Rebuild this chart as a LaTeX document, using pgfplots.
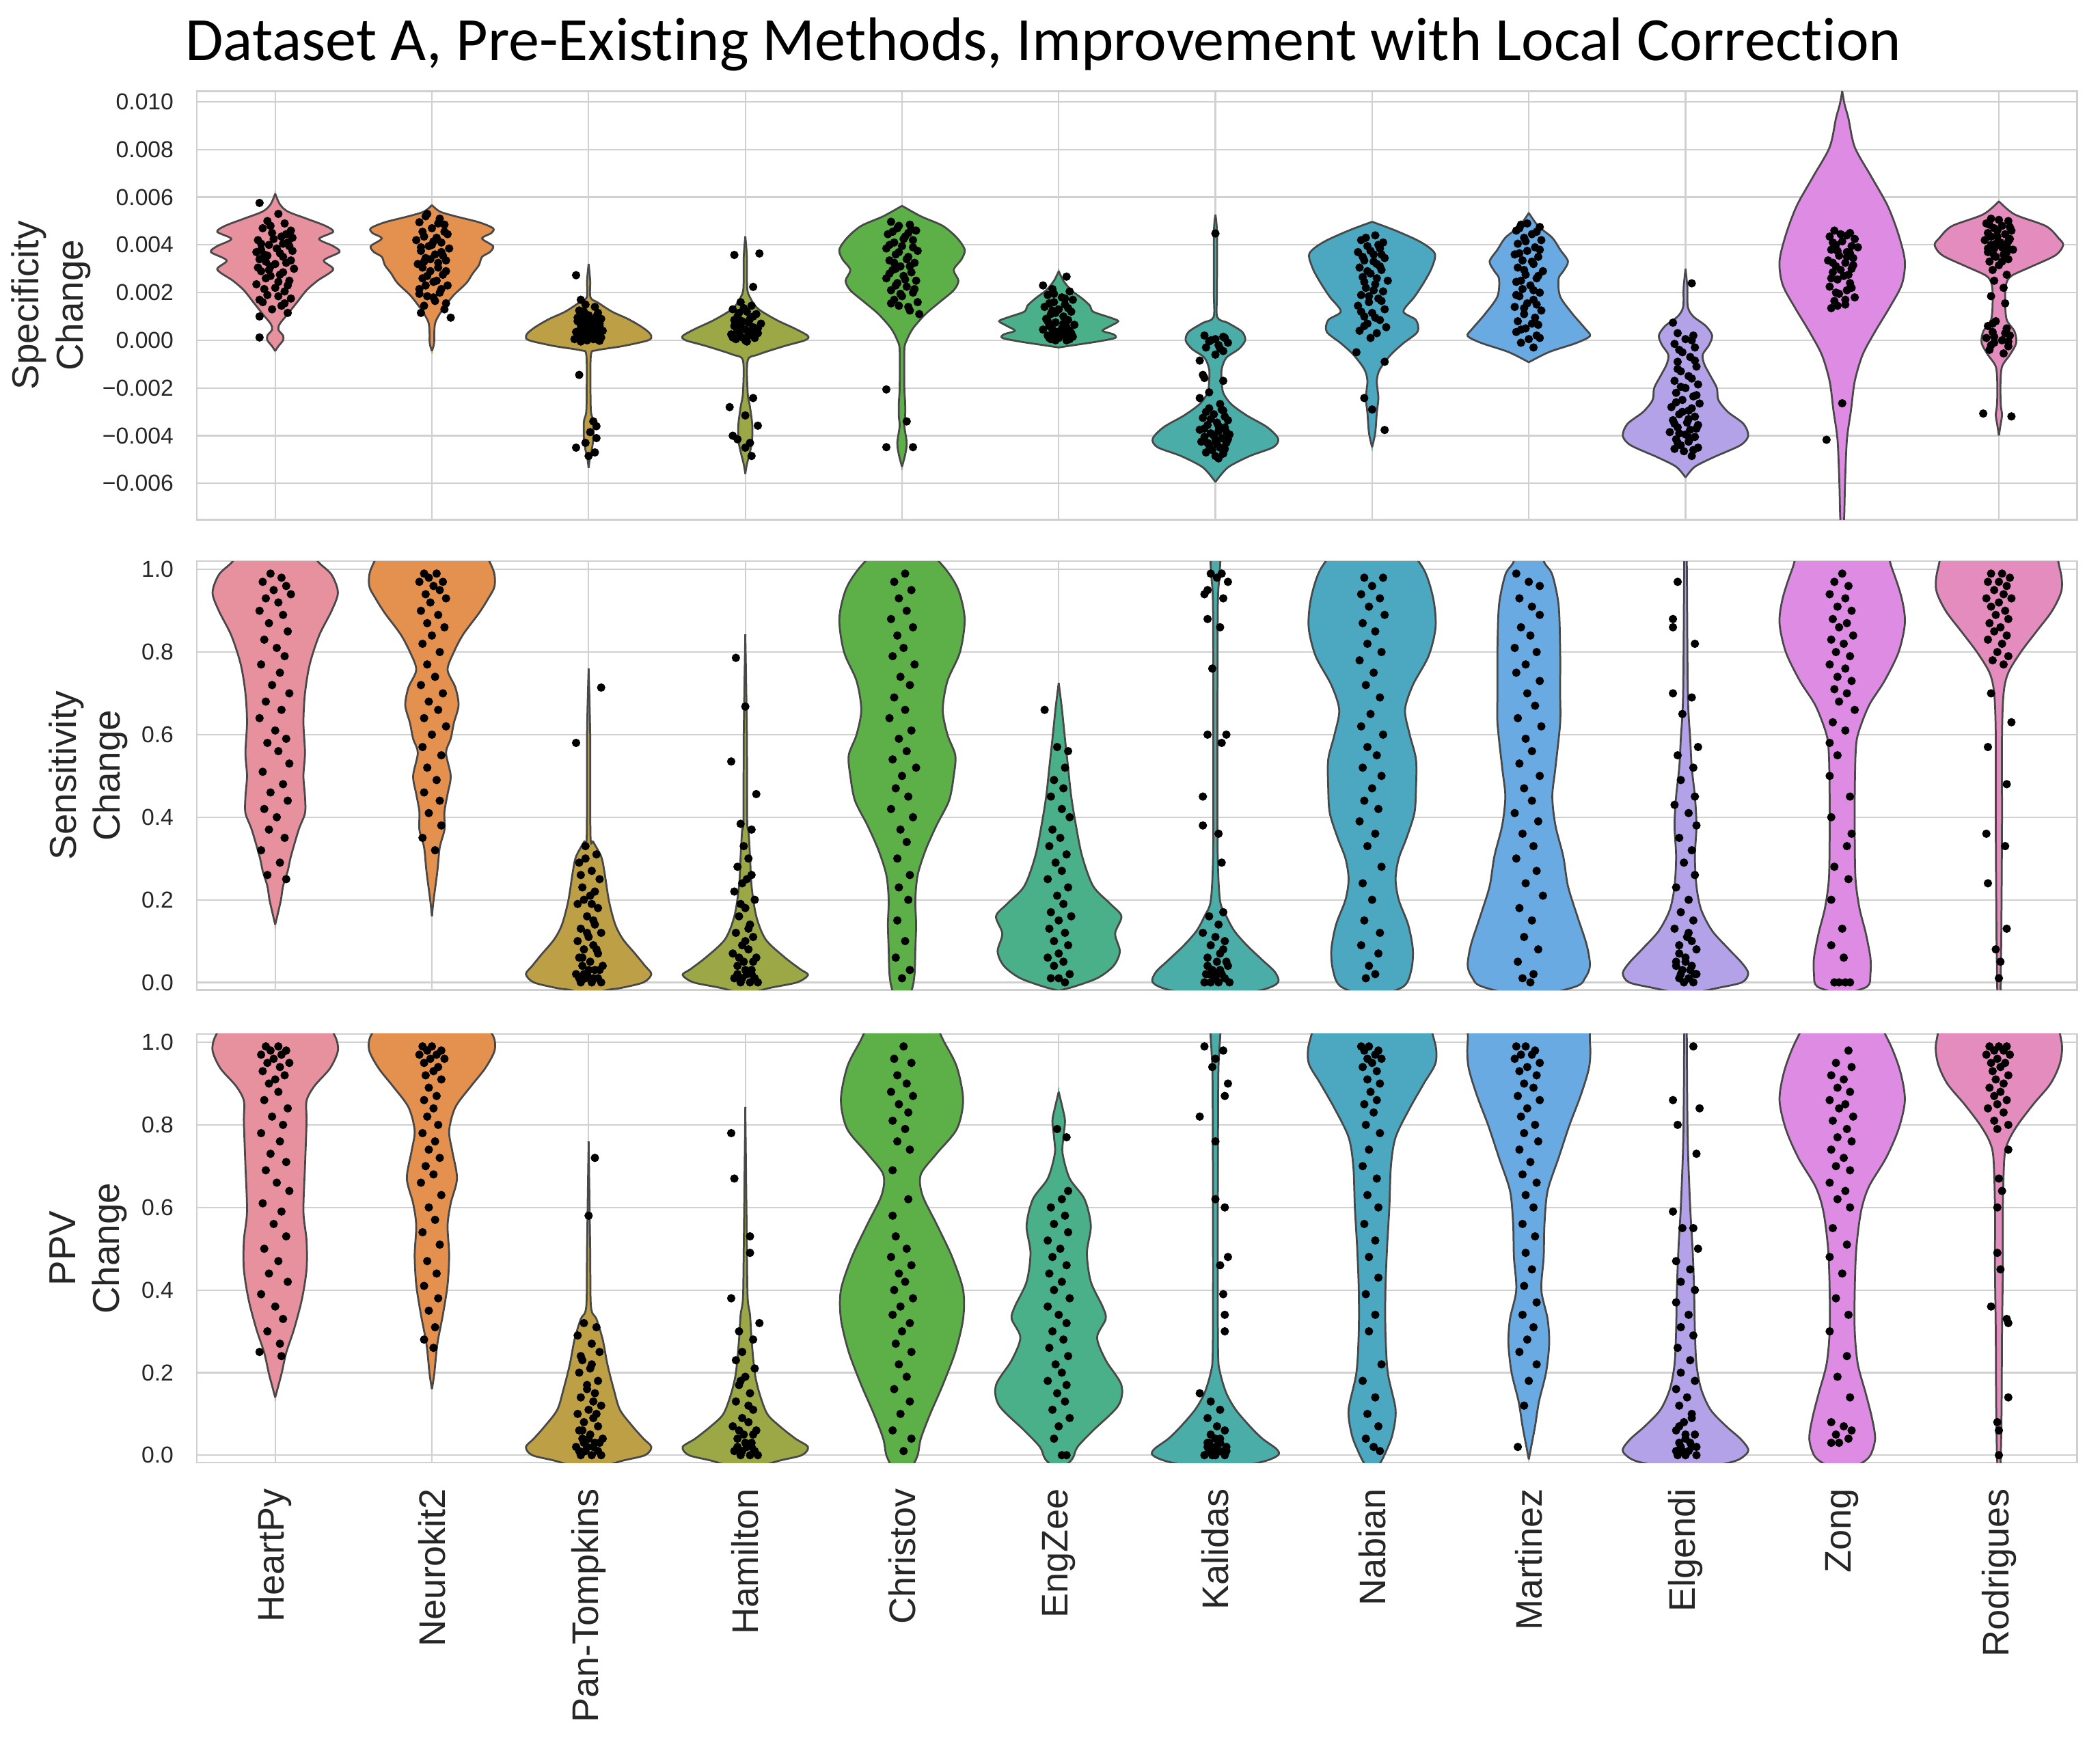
\documentclass[border=0pt]{standalone}
\usepackage{fontspec}
\setmainfont{Liberation Sans}
\newfontfamily\titlefont[Ligatures={NoCommon,NoContextual}]{Carlito}
\usepackage{pgfplots}
\pgfplotsset{compat=1.18}

\definecolor{gridc}{HTML}{D0D0D0}
\definecolor{labc}{HTML}{262626}
\definecolor{edgec}{HTML}{484848}
\definecolor{c1}{HTML}{E8919E}
\definecolor{c2}{HTML}{E4914F}
\definecolor{c3}{HTML}{BDA046}
\definecolor{c4}{HTML}{9CA846}
\definecolor{c5}{HTML}{5DAF47}
\definecolor{c6}{HTML}{49B08A}
\definecolor{c7}{HTML}{4AADA7}
\definecolor{c8}{HTML}{4BA8C0}
\definecolor{c9}{HTML}{6AAAE2}
\definecolor{c10}{HTML}{B3A2E8}
\definecolor{c11}{HTML}{DE8BE3}
\definecolor{c12}{HTML}{E58CBE}

\pgfplotsset{
  vbase/.style={
    width=702pt, height=160pt, scale only axis,
    xmin=-0.5, xmax=11.5, xtick={0,...,11}, xticklabels={},
    grid=major, major grid style={line width=0.55pt, color=gridc},
    axis line style={line width=0.65pt, color=gridc},
    major tick length=0pt, tick style={draw=none},
    yticklabel style={font=\fontsize{8.6}{10}\selectfont, text=labc, inner sep=0pt},
    yticklabel shift=8.5pt,
    every axis y label/.style={at={(axis description cs:-0.0577,0.5)}, rotate=90,
      anchor=center, align=center, font=\fontsize{14}{16.5}\selectfont, text=labc},
  },
  pts/.style={only marks, mark=*, mark size=1.35pt, color=black},
  vline/.style={draw=edgec, line width=0.7pt, smooth},
}

% half-width table (y, w) mirrored round the category position
\newcommand\violin[3]{%
  \addplot[fill=#2, draw=#2, line width=0.4pt, smooth] table[row sep=\\, x expr=#1-\thisrow{w}, y=y] {#3} -- cycle;
  \addplot[fill=#2, draw=#2, line width=0.4pt, smooth] table[row sep=\\, x expr=#1+\thisrow{w}, y=y] {#3} -- cycle;
  \addplot[vline] table[row sep=\\, x expr=#1-\thisrow{w}, y=y] {#3};
  \addplot[vline] table[row sep=\\, x expr=#1+\thisrow{w}, y=y] {#3};
}

\begin{document}
\begin{tikzpicture}
\path[use as bounding box] (-73.5pt,34pt) rectangle (710.5pt,-615.5pt);

% ---------- Specificity (values in units of 0.001) ----------
\begin{axis}[vbase, at={(0,0)}, anchor=north west,
  ymin=-7.52, ymax=10.45, ytick={-6,-4,...,10},
  yticklabels={−0.006,−0.004,−0.002,0.000,0.002,0.004,0.006,0.008,0.010},
  every axis y label/.append style={at={(axis description cs:-0.0776,0.5)}},
  ylabel={Specificity\\Change}]
\violin{0}{c1}{y w\\ 6.15 0\\ 5.7 0.03\\ 5.4 0.08\\ 5.1 0.2\\ 4.8 0.32\\ 4.55 0.37\\ 4.25 0.28\\ 3.95 0.37\\ 3.7 0.41\\ 3.35 0.31\\ 2.97 0.37\\ 2.5 0.27\\ 2.1 0.2\\ 1.6 0.14\\ 1.1 0.08\\ 0.7 0.03\\ 0.45 0.02\\ 0.2 0.05\\ 0.0 0.05\\ -0.25 0.02\\ -0.45 0\\}
\addplot[pts] coordinates {(-0.1,5.76) (0.02,5.3) (-0.05,5.0) (0.06,4.9) (-0.08,4.7) (0.1,4.6) (-0.02,4.5) (0.04,4.35) (-0.11,4.2) (0.08,4.1) (-0.04,4.0) (0.01,3.85) (0.11,3.75) (-0.07,3.6) (0.05,3.5) (-0.1,3.4) (0.07,3.25) (-0.03,3.1) (0.12,3.0) (-0.09,2.9) (0.03,2.75) (-0.06,2.6) (0.09,2.5) (-0.12,2.35) (0.0,2.2) (0.06,2.05) (-0.05,1.9) (0.1,1.75) (-0.08,1.6) (0.04,1.45) (-0.02,1.3) (0.08,1.15) (-0.1,1.0) (-0.1,0.12) (0.05,4.05) (-0.06,3.3) (0.02,2.45) (-0.03,4.8) (0.09,3.95) (-0.09,3.8)
 (-0.01,4.25) (0.07,4.45) (-0.09,4.05) (0.03,3.65) (-0.05,3.55) (0.1,3.35) (0.0,3.2) (-0.11,3.05) (0.05,2.85) (-0.03,2.7) (0.08,2.3) (-0.07,2.15) (0.02,1.85) (-0.1,1.7) (0.06,1.55) (-0.04,2.95) (0.11,4.3) (-0.12,3.7)};
\violin{1}{c2}{y w\\ 5.67 0\\ 5.4 0.05\\ 5.2 0.15\\ 4.95 0.3\\ 4.7 0.39\\ 4.5 0.38\\ 4.27 0.32\\ 3.95 0.39\\ 3.7 0.37\\ 3.5 0.32\\ 3.15 0.3\\ 2.8 0.26\\ 2.4 0.22\\ 1.9 0.14\\ 1.4 0.08\\ 1.0 0.04\\ 0.7 0.02\\ 0.3 0.015\\ 0.0 0.015\\ -0.2 0.012\\ -0.45 0\\}
\addplot[pts] coordinates {(0.97,5.3) (1.05,5.1) (0.92,4.95) (1.08,4.85) (1.0,4.7) (0.94,4.55) (1.1,4.45) (1.03,4.3) (0.9,4.2) (1.06,4.1) (0.98,3.95) (1.11,3.85) (0.93,3.75) (1.02,3.6) (0.96,3.45) (1.09,3.35) (0.91,3.2) (1.04,3.05) (0.99,2.9) (1.07,2.75) (0.94,2.6) (1.01,2.45) (1.1,2.3) (0.92,2.15) (1.05,2.0) (0.97,1.85) (1.02,1.65) (0.95,1.45) (1.08,1.3) (0.93,1.15) (1.12,0.95) (1.0,4.0) (0.95,3.3) (1.06,3.7)
 (0.96,5.2) (1.04,4.9) (1.08,4.55) (0.95,4.35) (1.01,4.15) (0.93,3.9) (1.07,3.55) (0.99,3.4) (1.04,3.25) (0.94,3.05) (1.09,2.9) (0.97,2.7) (1.03,2.5) (0.96,2.3) (1.06,2.15) (0.92,1.95) (1.01,1.8) (1.09,1.55)};
\violin{2}{c3}{y w\\ 3.2 0\\ 2.5 0.01\\ 1.8 0.012\\ 1.58 0.06\\ 1.2 0.15\\ 0.9 0.25\\ 0.6 0.33\\ 0.36 0.38\\ 0.18 0.40\\ 0.0 0.38\\ -0.24 0.22\\ -0.42 0.05\\ -0.6 0.015\\ -2.0 0.012\\ -3.0 0.015\\ -3.4 0.03\\ -4.1 0.03\\ -4.6 0.02\\ -4.85 0.01\\ -5.35 0\\}
\addplot[pts] coordinates {(1.92,2.73) (1.95,1.7) (1.98,1.5) (2.04,1.4) (1.94,1.25) (2.06,1.15) (2.0,1.05) (1.96,0.95) (2.08,0.9) (1.93,0.8) (2.03,0.75) (1.99,0.65) (2.07,0.6) (1.95,0.5) (2.02,0.45) (2.09,0.4) (1.92,0.35) (1.98,0.3) (2.05,0.25) (1.94,0.2) (2.01,0.15) (2.08,0.12) (1.96,0.1) (2.03,0.05) (1.91,0.05) (1.99,0.0) (2.06,0.02) (1.95,-0.05) (2.04,0.6) (1.97,0.85) (1.94,-1.45) (2.03,-3.4) (2.05,-3.6) (2.01,-3.85) (2.05,-4.1) (1.98,-4.3) (1.92,-4.5) (2.04,-4.7) (2.0,-4.85)
 (1.97,1.2) (2.05,1.0) (1.93,0.95) (2.01,0.85) (2.07,0.7) (1.95,0.65) (2.03,0.55) (1.98,0.4) (2.06,0.3) (1.94,0.25) (2.02,0.1) (2.07,-0.02) (1.97,0.2) (2.0,0.5)};
\violin{3}{c4}{y w\\ 4.36 0\\ 3.5 0.01\\ 2.2 0.012\\ 1.8 0.03\\ 1.33 0.08\\ 0.85 0.2\\ 0.48 0.32\\ 0.18 0.40\\ 0.0 0.38\\ -0.24 0.25\\ -0.6 0.08\\ -0.85 0.015\\ -2.2 0.015\\ -2.8 0.03\\ -3.6 0.045\\ -4.36 0.04\\ -5.2 0.01\\ -5.6 0\\}
\addplot[pts] coordinates {(2.93,3.58) (3.09,3.64) (3.05,2.24) (2.97,1.6) (3.04,1.45) (2.92,1.3) (3.01,1.2) (3.07,1.1) (2.95,1.0) (3.03,0.9) (2.98,0.8) (3.1,0.7) (2.93,0.6) (3.05,0.55) (3.0,0.45) (2.96,0.35) (3.08,0.3) (2.91,0.25) (3.02,0.2) (2.97,0.15) (3.06,0.1) (2.94,0.05) (3.0,0.0) (3.04,0.4) (2.99,1.35) (3.05,-2.42) (2.9,-2.8) (3.0,-3.15) (3.08,-3.58) (2.92,-4.0) (2.95,-4.15) (3.03,-4.3) (3.0,-4.5) (3.04,-4.85)
 (2.96,1.15) (3.05,1.0) (2.93,0.85) (3.02,0.75) (2.97,0.65) (3.08,0.5) (2.95,0.4) (3.03,0.3) (2.99,0.1) (3.06,0.2) (2.92,0.12) (3.01,-0.05)};
\violin{4}{c5}{y w\\ 5.64 0\\ 5.2 0.12\\ 4.8 0.26\\ 4.3 0.35\\ 3.8 0.40\\ 3.4 0.38\\ 2.95 0.33\\ 2.5 0.36\\ 2.1 0.33\\ 1.6 0.24\\ 1.1 0.15\\ 0.5 0.07\\ 0.0 0.03\\ -0.4 0.015\\ -2.0 0.015\\ -2.6 0.02\\ -3.2 0.02\\ -3.6 0.015\\ -4.3 0.03\\ -4.8 0.02\\ -5.3 0\\}
\addplot[pts] coordinates {(3.93,4.97) (4.05,4.85) (3.97,4.7) (4.09,4.6) (3.91,4.45) (4.02,4.35) (4.07,4.2) (3.95,4.1) (4.0,3.95) (3.9,3.85) (4.1,3.75) (3.96,3.6) (4.04,3.5) (3.92,3.35) (4.08,3.25) (3.99,3.1) (3.94,2.95) (4.06,2.85) (4.01,2.7) (3.9,2.6) (4.09,2.5) (3.97,2.4) (4.03,2.25) (3.93,2.1) (4.07,2.0) (4.0,1.85) (3.95,1.7) (4.1,1.6) (3.98,1.45) (4.05,1.25) (4.11,1.1) (4.04,4.5) (3.96,3.0) (3.9,-2.06) (4.03,-3.4) (3.9,-4.48) (4.07,-4.48)
 (3.98,4.8) (4.06,4.65) (3.94,4.55) (4.01,4.25) (3.92,4.0) (4.07,3.9) (3.98,3.7) (4.03,3.4) (3.95,3.25) (4.05,3.1) (3.92,2.8) (4.02,2.55) (3.96,2.3) (4.08,2.15) (3.99,1.95) (3.93,1.55) (4.04,1.4)};
\violin{5}{c6}{y w\\ 2.9 0\\ 2.5 0.03\\ 2.1 0.08\\ 1.75 0.15\\ 1.45 0.2\\ 1.2 0.22\\ 0.95 0.33\\ 0.8 0.38\\ 0.6 0.33\\ 0.4 0.28\\ 0.25 0.35\\ 0.1 0.36\\ -0.05 0.25\\ -0.2 0.1\\ -0.3 0\\}
\addplot[pts] coordinates {(5.05,2.67) (4.9,2.3) (4.96,2.15) (5.07,2.05) (4.93,1.9) (5.02,1.8) (5.09,1.7) (4.97,1.6) (5.04,1.5) (4.91,1.4) (5.0,1.3) (5.08,1.2) (4.95,1.1) (5.03,1.0) (4.92,0.9) (5.06,0.85) (4.98,0.75) (5.1,0.65) (4.94,0.6) (5.02,0.5) (4.9,0.45) (5.07,0.4) (4.97,0.3) (5.04,0.25) (4.93,0.2) (5.09,0.15) (5.0,0.1) (4.95,0.05) (5.05,0.0) (4.99,0.35) (5.03,0.7) (4.96,1.25)
 (4.97,1.95) (5.04,1.75) (4.94,1.55) (5.06,1.35) (4.98,1.15) (4.93,0.8) (5.05,0.55) (4.96,0.45) (5.08,0.3) (5.01,0.2) (4.94,0.1) (5.07,0.05) (4.98,0.0)};
\violin{6}{c7}{y w\\ 5.27 0\\ 4.5 0.01\\ 2.0 0.01\\ 0.97 0.012\\ 0.73 0.08\\ 0.36 0.17\\ 0.0 0.19\\ -0.36 0.15\\ -0.73 0.07\\ -1.21 0.04\\ -1.7 0.04\\ -2.2 0.05\\ -2.67 0.1\\ -3.15 0.2\\ -3.64 0.33\\ -4.12 0.40\\ -4.48 0.37\\ -4.85 0.22\\ -5.33 0.08\\ -5.94 0\\}
\addplot[pts] coordinates {(6.0,4.48) (5.93,0.2) (6.05,0.15) (6.0,0.05) (5.96,-0.05) (6.08,-0.1) (6.02,-0.2) (5.94,-0.3) (6.05,-0.45) (6.0,-0.6) (5.9,-0.85) (5.92,-1.45) (5.93,-1.58) (6.05,-1.7) (5.96,-2.18) (5.9,-2.42) (6.03,-2.67) (5.96,-2.85) (6.05,-2.95) (5.99,-3.1) (5.92,-3.25) (6.08,-3.35) (6.01,-3.45) (5.95,-3.55) (6.06,-3.65) (5.9,-3.75) (6.02,-3.8) (5.97,-3.9) (6.09,-3.95) (5.93,-4.05) (6.04,-4.1) (6.0,-4.2) (5.91,-4.25) (6.07,-4.3) (5.96,-4.4) (6.03,-4.5) (5.98,-4.6) (6.05,-4.75) (6.02,-4.95)
 (6.04,-2.9) (5.94,-3.0) (6.06,-3.2) (5.97,-3.3) (6.02,-3.6) (5.93,-3.7) (6.07,-3.85) (5.99,-4.0) (6.08,-4.15) (5.95,-4.3) (6.01,-4.35) (6.06,-4.55) (5.94,-4.7) (6.0,-4.85) (6.06,0.1) (5.97,0.0) (6.03,-0.35)};
\violin{7}{c8}{y w\\ 4.97 0\\ 4.6 0.15\\ 4.12 0.31\\ 3.64 0.40\\ 3.03 0.38\\ 2.42 0.33\\ 1.82 0.27\\ 1.21 0.2\\ 0.85 0.28\\ 0.36 0.29\\ -0.12 0.2\\ -0.6 0.12\\ -1.21 0.05\\ -1.7 0.03\\ -2.42 0.04\\ -3.03 0.03\\ -3.88 0.02\\ -4.48 0\\}
\addplot[pts] coordinates {(7.02,4.4) (6.93,4.2) (7.07,4.1) (6.97,3.95) (7.05,3.85) (6.91,3.7) (7.01,3.6) (7.08,3.45) (6.95,3.35) (7.03,3.2) (6.92,3.05) (7.06,2.95) (6.99,2.8) (6.94,2.65) (7.1,2.5) (7.02,2.35) (6.96,2.2) (7.07,2.05) (6.93,1.9) (7.04,1.75) (6.98,1.6) (6.91,1.45) (7.08,1.3) (7.0,1.15) (6.95,1.0) (7.05,0.85) (6.97,0.7) (7.09,0.55) (6.92,0.4) (7.03,0.3) (6.99,0.1) (6.9,-0.5) (7.08,-0.9) (6.95,-2.42) (7.0,-2.9) (7.08,-3.76)
 (6.96,4.3) (7.04,4.0) (6.99,3.75) (7.06,3.6) (6.94,3.5) (7.01,3.3) (7.05,3.1) (6.97,2.9) (7.03,2.6) (6.95,2.45) (7.01,2.1) (6.98,1.85) (7.06,1.65) (6.93,1.2) (7.02,0.95) (6.95,0.6)};
\violin{8}{c9}{y w\\ 5.34 0\\ 4.79 0.06\\ 4.3 0.15\\ 3.8 0.2\\ 3.31 0.25\\ 2.9 0.22\\ 2.58 0.19\\ 1.84 0.2\\ 1.1 0.28\\ 0.49 0.36\\ 0.18 0.39\\ -0.12 0.3\\ -0.49 0.13\\ -0.92 0\\}
\addplot[pts] coordinates {(7.95,4.85) (8.07,4.75) (7.92,4.6) (8.02,4.45) (7.97,4.3) (8.08,4.2) (7.93,4.05) (8.04,3.9) (7.99,3.75) (7.91,3.6) (8.06,3.5) (7.96,3.35) (8.03,3.2) (7.93,3.05) (8.09,2.9) (7.98,2.75) (8.05,2.6) (7.92,2.45) (8.01,2.3) (7.96,2.15) (8.07,2.0) (7.94,1.85) (8.03,1.7) (7.99,1.55) (7.91,1.4) (8.08,1.25) (7.97,1.1) (8.04,0.95) (7.93,0.8) (8.06,0.65) (7.98,0.5) (7.92,0.35) (8.05,0.2) (8.0,0.05) (7.95,-0.1) (8.03,-0.3)
 (7.99,4.9) (7.94,4.7) (8.05,4.55) (7.98,4.15) (8.07,3.8) (7.94,3.65) (8.02,3.3) (7.97,2.95) (8.06,2.7) (7.95,2.5) (8.03,2.1) (7.92,1.9) (8.05,1.5) (7.97,1.35) (8.02,0.7) (7.95,0.45) (8.07,0.1)};
\violin{9}{c10}{y w\\ 3.0 0\\ 2.2 0.012\\ 1.4 0.015\\ 1.0 0.05\\ 0.6 0.13\\ 0.2 0.17\\ -0.2 0.15\\ -0.6 0.11\\ -1.0 0.12\\ -1.5 0.16\\ -2.0 0.2\\ -2.5 0.21\\ -3.0 0.27\\ -3.5 0.37\\ -4.0 0.40\\ -4.4 0.35\\ -4.9 0.18\\ -5.3 0.06\\ -5.75 0\\}
\addplot[pts] coordinates {(9.04,2.39) (8.92,0.74) (8.95,0.3) (9.05,0.2) (9.0,0.05) (8.93,-0.15) (9.06,-0.3) (8.98,-0.5) (9.03,-0.7) (8.95,-0.9) (9.07,-1.1) (8.97,-1.3) (9.02,-1.5) (8.93,-1.7) (9.08,-1.85) (9.0,-2.0) (8.94,-2.2) (9.05,-2.35) (8.98,-2.5) (9.09,-2.65) (8.91,-2.8) (9.02,-2.95) (8.96,-3.1) (9.06,-3.2) (8.92,-3.35) (9.01,-3.45) (9.08,-3.55) (8.95,-3.65) (9.03,-3.75) (8.9,-3.85) (9.0,-3.95) (9.06,-4.05) (8.94,-4.15) (9.02,-4.25) (8.97,-4.4) (9.08,-4.5) (8.99,-4.65) (9.04,-4.85)
 (9.04,0.0) (8.96,-0.4) (9.06,-0.85) (8.95,-1.2) (9.04,-1.6) (8.97,-1.95) (9.07,-2.3) (8.94,-2.6) (9.04,-2.85) (8.98,-3.0) (9.02,-3.3) (8.93,-3.5) (9.07,-3.7) (8.96,-3.9) (9.03,-4.1) (8.95,-4.3) (9.05,-4.6) (8.93,-4.55)};
\violin{10}{c11}{y w\\ 10.45 0\\ 9.9 0.015\\ 9.3 0.04\\ 8.1 0.08\\ 6.87 0.185\\ 5.64 0.29\\ 4.42 0.36\\ 3.31 0.40\\ 2.33 0.38\\ 1.35 0.3\\ 0.37 0.21\\ -0.61 0.13\\ -1.72 0.08\\ -2.94 0.056\\ -4.17 0.03\\ -6.0 0.018\\ -7.5 0.012\\ -8.0 0\\}
\addplot[pts] coordinates {(9.95,4.6) (10.05,4.5) (9.92,4.35) (10.08,4.25) (10.0,4.15) (9.96,4.0) (10.1,3.9) (9.93,3.8) (10.03,3.7) (9.98,3.55) (10.07,3.45) (9.91,3.35) (10.02,3.25) (9.96,3.1) (10.06,3.0) (9.94,2.85) (10.01,2.7) (9.97,2.55) (10.05,2.4) (9.92,2.25) (10.03,2.1) (9.98,1.95) (10.08,1.8) (9.95,1.65) (10.02,1.5) (9.93,1.35) (10.05,3.65) (9.99,4.45) (10.0,-2.64) (9.9,-4.17)
 (10.03,4.4) (9.94,4.1) (10.06,3.95) (9.97,3.75) (10.03,3.5) (9.94,3.25) (10.07,3.15) (9.99,2.95) (10.04,2.75) (9.93,2.6) (10.06,2.2) (9.96,2.0) (10.02,1.7) (9.97,1.45)};
\violin{11}{c12}{y w\\ 5.83 0\\ 5.28 0.1\\ 4.79 0.3\\ 4.29 0.38\\ 3.99 0.41\\ 3.56 0.36\\ 3.07 0.2\\ 2.7 0.08\\ 2.33 0.045\\ 1.6 0.04\\ 0.86 0.05\\ 0.37 0.1\\ -0.12 0.11\\ -0.61 0.07\\ -1.1 0.02\\ -1.84 0.01\\ -2.7 0.012\\ -3.13 0.02\\ -3.56 0.01\\ -3.99 0\\}
\addplot[pts] coordinates {(10.95,5.1) (11.06,5.0) (10.92,4.9) (11.02,4.8) (10.97,4.7) (11.08,4.6) (10.93,4.5) (11.04,4.45) (10.99,4.35) (11.07,4.25) (10.91,4.2) (11.01,4.1) (10.95,4.0) (11.05,3.95) (10.97,3.85) (11.09,3.8) (10.93,3.7) (11.03,3.6) (10.98,3.5) (11.06,3.4) (10.94,3.3) (11.0,3.15) (10.96,2.95) (11.05,2.75) (10.97,2.5) (11.03,2.2) (10.95,1.85) (11.04,1.55) (10.98,0.8) (10.93,0.6) (11.05,0.5) (10.96,0.35) (11.07,0.2) (10.92,0.1) (11.02,0.0) (10.97,-0.1) (11.06,-0.25) (10.94,-0.4) (11.03,-0.55) (10.9,-3.07) (11.08,-3.19)
 (11.0,5.05) (10.94,4.85) (11.07,4.75) (10.99,4.6) (10.95,4.35) (11.06,4.15) (10.98,4.05) (11.02,3.9) (10.93,3.85) (11.05,3.7) (10.97,3.55) (11.02,3.3) (10.96,0.7) (11.04,0.3) (10.97,0.15) (11.06,-0.05) (10.95,-0.2)};
\end{axis}

% ---------- Sensitivity ----------
\begin{axis}[vbase, at={(0,-175.5pt)}, anchor=north west,
  ymin=-0.018, ymax=1.02, ytick={0,0.2,0.4,0.6,0.8,1.0},
  yticklabels={0.0,0.2,0.4,0.6,0.8,1.0},
  ylabel={Sensitivity\\Change}]
\violin{0}{c1}{y w\\ 1.1 0\\ 1.05 0.2\\ 1.016 0.28\\ 0.987 0.36\\ 0.944 0.40\\ 0.9 0.36\\ 0.84 0.28\\ 0.77 0.22\\ 0.7 0.19\\ 0.63 0.18\\ 0.556 0.19\\ 0.5 0.18\\ 0.45 0.19\\ 0.41 0.19\\ 0.37 0.15\\ 0.305 0.1\\ 0.27 0.08\\ 0.233 0.05\\ 0.197 0.035\\ 0.14 0\\}
\addplot[pts] coordinates {(-0.03,0.99) (0.04,0.98) (-0.08,0.97) (0.07,0.96) (-0.01,0.95) (0.1,0.94) (-0.06,0.93) (0.02,0.92) (-0.1,0.9) (0.05,0.89) (-0.04,0.87) (0.08,0.85) (-0.07,0.83) (0.01,0.81) (0.06,0.79) (-0.09,0.77) (0.03,0.75) (-0.02,0.72) (0.09,0.7) (-0.06,0.68) (0.04,0.66) (-0.1,0.64) (0.0,0.61) (0.07,0.59) (-0.05,0.58) (0.02,0.56) (0.09,0.53) (-0.08,0.51) (0.05,0.48) (-0.03,0.46) (0.08,0.44) (-0.07,0.42) (0.01,0.4) (-0.04,0.37) (0.06,0.35) (-0.09,0.32) (0.03,0.29) (-0.05,0.26) (0.07,0.25)};
\violin{1}{c2}{y w\\ 1.1 0\\ 1.05 0.3\\ 1.0 0.39\\ 0.96 0.40\\ 0.93 0.36\\ 0.894 0.3\\ 0.843 0.2\\ 0.8 0.14\\ 0.757 0.1\\ 0.714 0.15\\ 0.671 0.17\\ 0.628 0.14\\ 0.59 0.12\\ 0.556 0.09\\ 0.5 0.12\\ 0.456 0.1\\ 0.413 0.08\\ 0.37 0.08\\ 0.327 0.05\\ 0.27 0.035\\ 0.197 0.01\\ 0.16 0\\}
\addplot[pts] coordinates {(0.95,0.99) (1.03,0.99) (0.98,0.98) (1.07,0.97) (0.92,0.97) (1.01,0.96) (1.05,0.95) (0.96,0.94) (1.09,0.93) (0.99,0.92) (0.93,0.9) (1.04,0.89) (0.97,0.87) (1.08,0.86) (1.0,0.84) (0.94,0.82) (1.05,0.8) (0.97,0.77) (1.02,0.74) (0.93,0.72) (1.07,0.7) (0.98,0.68) (1.04,0.66) (0.95,0.64) (1.09,0.62) (1.0,0.6) (0.94,0.57) (1.06,0.55) (0.97,0.52) (1.03,0.49) (0.95,0.46) (1.05,0.44) (0.98,0.41) (1.06,0.38) (0.94,0.35) (1.02,0.32)};
\violin{2}{c3}{y w\\ 0.76 0\\ 0.6 0.01\\ 0.355 0.012\\ 0.34 0.03\\ 0.305 0.08\\ 0.27 0.1\\ 0.197 0.13\\ 0.14 0.17\\ 0.104 0.22\\ 0.068 0.3\\ 0.04 0.36\\ 0.02 0.40\\ 0.0 0.35\\ -0.014 0.2\\ -0.02 0.1\\ -0.04 0\\}
\addplot[pts] coordinates {(2.08,0.714) (1.92,0.58) (1.98,0.33) (2.05,0.31) (1.94,0.29) (2.02,0.27) (2.07,0.25) (1.96,0.23) (2.01,0.21) (1.93,0.19) (2.06,0.18) (1.99,0.16) (2.04,0.14) (1.95,0.13) (2.08,0.12) (2.0,0.11) (1.93,0.1) (2.03,0.09) (1.97,0.08) (2.06,0.07) (1.94,0.06) (2.01,0.05) (2.09,0.04) (1.96,0.04) (2.04,0.03) (1.92,0.02) (1.99,0.02) (2.06,0.01) (2.02,0.0) (1.95,0.0) (2.08,0.0) (1.98,0.01) (2.03,0.15) (1.97,0.2)
 (1.97,0.02) (2.03,0.01) (1.94,0.01) (2.07,0.03) (2.0,0.03) (1.96,0.06) (2.05,0.08) (1.99,0.12) (2.02,0.19) (1.95,0.26) (2.04,0.22) (1.98,0.3)};
\violin{3}{c4}{y w\\ 0.843 0\\ 0.6 0.01\\ 0.39 0.012\\ 0.37 0.02\\ 0.305 0.03\\ 0.233 0.04\\ 0.16 0.07\\ 0.104 0.13\\ 0.061 0.25\\ 0.032 0.35\\ 0.018 0.40\\ 0.0 0.33\\ -0.014 0.15\\ -0.03 0\\}
\addplot[pts] coordinates {(2.94,0.786) (3.0,0.668) (2.91,0.535) (3.07,0.456) (2.97,0.384) (3.02,0.3) (2.95,0.28) (3.04,0.26) (2.98,0.24) (2.93,0.22) (3.06,0.2) (3.0,0.18) (2.96,0.16) (3.03,0.14) (2.94,0.12) (3.05,0.11) (2.98,0.09) (3.02,0.08) (2.92,0.07) (3.07,0.06) (2.99,0.05) (2.95,0.04) (3.04,0.03) (3.01,0.02) (2.93,0.01) (3.06,0.01) (2.97,0.0) (3.03,0.0) (3.0,0.1)
 (2.98,0.01) (3.04,0.02) (2.95,0.02) (3.08,0.0) (3.0,0.03) (2.96,0.06) (3.05,0.05) (3.02,0.13) (2.97,0.19) (3.01,0.25) (2.99,0.33) (3.04,0.37)};
\violin{4}{c5}{y w\\ 1.08 0\\ 1.05 0.15\\ 1.0 0.28\\ 0.95 0.36\\ 0.88 0.40\\ 0.8 0.37\\ 0.73 0.29\\ 0.66 0.26\\ 0.6 0.29\\ 0.55 0.34\\ 0.5 0.33\\ 0.44 0.3\\ 0.38 0.22\\ 0.32 0.15\\ 0.26 0.1\\ 0.2 0.085\\ 0.14 0.09\\ 0.08 0.085\\ 0.02 0.08\\ -0.02 0.06\\ -0.05 0\\}
\addplot[pts] coordinates {(4.02,0.99) (3.95,0.97) (4.06,0.95) (3.98,0.93) (4.03,0.9) (3.93,0.88) (4.07,0.86) (3.97,0.84) (4.01,0.81) (3.94,0.79) (4.08,0.77) (3.99,0.74) (4.05,0.72) (3.95,0.69) (4.02,0.66) (3.92,0.64) (4.06,0.61) (3.98,0.59) (4.03,0.56) (3.94,0.54) (4.09,0.52) (4.0,0.5) (3.96,0.47) (4.04,0.45) (3.93,0.42) (4.07,0.4) (3.99,0.37) (4.03,0.34) (3.97,0.3) (4.05,0.26) (3.98,0.23) (4.04,0.2) (3.97,0.15) (4.02,0.1) (3.96,0.06) (4.05,0.03) (4.0,0.01)};
\violin{5}{c6}{y w\\ 0.725 0\\ 0.664 0.02\\ 0.59 0.04\\ 0.52 0.06\\ 0.45 0.08\\ 0.38 0.11\\ 0.305 0.15\\ 0.233 0.22\\ 0.19 0.33\\ 0.16 0.40\\ 0.118 0.36\\ 0.075 0.39\\ 0.04 0.35\\ 0.011 0.25\\ -0.01 0.1\\ -0.02 0\\}
\addplot[pts] coordinates {(4.91,0.66) (4.99,0.57) (5.06,0.56) (5.04,0.52) (4.97,0.49) (5.03,0.47) (4.95,0.45) (5.02,0.42) (5.07,0.4) (4.96,0.37) (5.01,0.35) (4.94,0.33) (5.05,0.31) (4.98,0.29) (5.02,0.27) (4.93,0.25) (5.06,0.23) (4.99,0.21) (5.03,0.19) (4.95,0.17) (5.08,0.16) (5.0,0.15) (4.94,0.13) (5.04,0.12) (4.97,0.1) (5.06,0.09) (5.0,0.07) (4.93,0.06) (5.03,0.05) (4.97,0.04) (5.07,0.02) (5.0,0.01) (4.95,0.01) (5.04,0.0)};
\violin{6}{c7}{y w\\ 1.1 0\\ 1.03 0.03\\ 0.98 0.025\\ 0.9 0.015\\ 0.5 0.013\\ 0.3 0.015\\ 0.197 0.03\\ 0.16 0.07\\ 0.125 0.12\\ 0.09 0.2\\ 0.054 0.3\\ 0.025 0.38\\ 0.0 0.40\\ -0.018 0.3\\ -0.04 0\\}
\addplot[pts] coordinates {(5.97,0.99) (6.04,0.99) (6.01,0.98) (6.08,0.97) (5.95,0.95) (5.93,0.94) (6.05,0.93) (5.95,0.88) (6.03,0.86) (5.98,0.76) (5.95,0.6) (6.07,0.6) (6.04,0.58) (5.92,0.45) (5.92,0.38) (6.02,0.36) (6.04,0.29) (6.05,0.17) (5.96,0.16) (6.02,0.14) (5.92,0.12) (6.0,0.11) (6.06,0.1) (5.97,0.09) (6.03,0.07) (5.95,0.06) (6.01,0.05) (6.08,0.04) (5.98,0.03) (6.04,0.02) (5.94,0.02) (6.0,0.01) (6.06,0.01) (5.97,0.0) (6.02,0.0) (6.09,0.0) (5.93,0.0)
 (5.99,0.01) (6.03,0.03) (5.95,0.04) (6.07,0.05) (6.0,0.02) (5.96,0.02) (6.05,0.08)};
\violin{7}{c8}{y w\\ 1.1 0\\ 1.06 0.2\\ 1.0 0.33\\ 0.93 0.39\\ 0.86 0.405\\ 0.79 0.36\\ 0.72 0.26\\ 0.66 0.21\\ 0.6 0.24\\ 0.54 0.28\\ 0.47 0.28\\ 0.41 0.27\\ 0.35 0.22\\ 0.3 0.17\\ 0.25 0.15\\ 0.2 0.17\\ 0.14 0.23\\ 0.08 0.26\\ 0.03 0.25\\ -0.01 0.2\\ -0.04 0\\}
\addplot[pts] coordinates {(6.95,0.98) (7.07,0.98) (7.0,0.96) (6.93,0.94) (7.05,0.93) (6.98,0.91) (7.08,0.89) (6.94,0.87) (7.02,0.85) (6.97,0.82) (7.06,0.8) (6.92,0.78) (7.01,0.75) (6.96,0.72) (7.05,0.69) (6.99,0.65) (6.93,0.62) (7.07,0.6) (6.97,0.57) (7.03,0.55) (6.94,0.52) (7.06,0.5) (7.0,0.47) (6.95,0.44) (7.04,0.42) (6.92,0.39) (7.02,0.36) (6.97,0.33) (7.06,0.28) (6.94,0.24) (7.0,0.2) (6.95,0.15) (7.05,0.12) (6.93,0.09) (7.04,0.07) (6.98,0.04) (7.02,0.02) (6.96,0.01)};
\violin{8}{c9}{y w\\ 1.1 0\\ 1.05 0.07\\ 1.016 0.1\\ 0.987 0.15\\ 0.914 0.19\\ 0.807 0.2\\ 0.7 0.2\\ 0.628 0.2\\ 0.52 0.17\\ 0.45 0.15\\ 0.38 0.17\\ 0.305 0.22\\ 0.233 0.25\\ 0.16 0.31\\ 0.09 0.37\\ 0.04 0.39\\ 0.011 0.36\\ -0.01 0.3\\ -0.04 0\\}
\addplot[pts] coordinates {(7.92,0.99) (8.0,0.97) (8.07,0.96) (7.94,0.93) (8.02,0.91) (8.07,0.89) (7.95,0.86) (8.01,0.84) (7.91,0.81) (8.05,0.8) (7.98,0.77) (7.92,0.75) (8.07,0.73) (7.99,0.7) (8.04,0.67) (7.93,0.64) (8.08,0.62) (7.98,0.59) (8.02,0.56) (7.94,0.53) (8.07,0.5) (7.97,0.47) (8.02,0.44) (7.91,0.41) (8.06,0.39) (7.96,0.36) (8.03,0.33) (7.92,0.3) (8.05,0.27) (7.98,0.24) (8.09,0.21) (7.94,0.18) (8.02,0.15) (7.97,0.11) (8.06,0.08) (7.93,0.05) (8.03,0.02) (7.96,0.01) (8.01,0.0)};
\violin{9}{c10}{y w\\ 1.12 0\\ 1.02 0.008\\ 0.7 0.015\\ 0.59 0.03\\ 0.52 0.04\\ 0.45 0.06\\ 0.38 0.07\\ 0.305 0.06\\ 0.233 0.07\\ 0.176 0.1\\ 0.125 0.17\\ 0.083 0.27\\ 0.047 0.36\\ 0.022 0.40\\ 0.0 0.36\\ -0.014 0.2\\ -0.03 0\\}
\addplot[pts] coordinates {(8.95,0.97) (8.92,0.88) (8.92,0.86) (9.06,0.82) (8.92,0.7) (9.04,0.69) (8.98,0.65) (9.08,0.57) (8.95,0.55) (9.05,0.52) (8.97,0.49) (9.06,0.45) (8.93,0.43) (9.02,0.41) (9.07,0.38) (8.96,0.35) (9.04,0.32) (8.99,0.29) (9.06,0.26) (8.94,0.23) (9.02,0.2) (8.97,0.17) (9.05,0.15) (8.93,0.13) (9.01,0.11) (8.96,0.09) (9.07,0.08) (9.0,0.06) (8.94,0.05) (9.04,0.04) (8.98,0.03) (9.06,0.02) (8.96,0.01) (9.02,0.01) (8.99,0.0) (9.05,0.0)
 (8.97,0.02) (9.03,0.03) (8.94,0.04) (9.07,0.02) (9.0,0.05) (8.96,0.07) (9.04,0.1) (9.02,0.12)};
\violin{10}{c11}{y w\\ 1.1 0\\ 1.06 0.25\\ 1.0 0.32\\ 0.93 0.38\\ 0.87 0.40\\ 0.8 0.36\\ 0.73 0.27\\ 0.67 0.17\\ 0.6 0.1\\ 0.55 0.085\\ 0.45 0.08\\ 0.35 0.08\\ 0.25 0.085\\ 0.18 0.11\\ 0.12 0.15\\ 0.06 0.18\\ 0.02 0.18\\ -0.01 0.16\\ -0.03 0\\}
\addplot[pts] coordinates {(10.0,0.99) (9.95,0.97) (10.04,0.96) (9.92,0.94) (10.02,0.93) (9.97,0.91) (10.06,0.9) (9.94,0.88) (10.03,0.87) (9.98,0.86) (10.07,0.84) (9.93,0.83) (10.01,0.82) (9.96,0.8) (10.05,0.79) (9.92,0.77) (10.02,0.76) (9.97,0.74) (10.06,0.73) (9.95,0.71) (10.03,0.7) (9.98,0.68) (10.08,0.66) (9.94,0.63) (10.02,0.61) (9.92,0.58) (9.97,0.55) (9.92,0.5) (10.05,0.45) (9.93,0.4) (10.06,0.36) (10.03,0.33) (9.95,0.28) (10.04,0.25) (9.93,0.2) (10.0,0.13) (9.93,0.09) (10.01,0.06) (9.95,0.0) (9.98,0.0) (10.02,0.0) (10.05,0.0)};
\violin{11}{c12}{y w\\ 1.1 0\\ 1.06 0.32\\ 1.0 0.39\\ 0.95 0.40\\ 0.9 0.34\\ 0.85 0.24\\ 0.8 0.14\\ 0.75 0.06\\ 0.7 0.03\\ 0.6 0.02\\ 0.4 0.02\\ 0.25 0.018\\ 0.1 0.015\\ 0.03 0.012\\ -0.02 0.01\\ -0.04 0\\}
\addplot[pts] coordinates {(10.95,0.99) (11.02,0.99) (11.07,0.98) (10.93,0.97) (11.0,0.97) (11.05,0.96) (10.97,0.95) (11.03,0.94) (10.92,0.93) (11.08,0.93) (11.0,0.92) (10.95,0.91) (11.04,0.9) (10.98,0.89) (11.06,0.88) (10.94,0.87) (11.01,0.86) (10.97,0.85) (11.05,0.84) (10.93,0.83) (11.02,0.82) (10.99,0.8) (11.06,0.79) (10.96,0.78) (11.03,0.77) (10.95,0.7) (11.08,0.63) (10.93,0.57) (11.05,0.48) (10.92,0.36) (11.04,0.33) (10.93,0.24) (11.05,0.13) (10.98,0.08) (11.01,0.05) (11.0,0.01)};
\end{axis}

% ---------- PPV ----------
\begin{axis}[vbase, at={(0,-352pt)}, anchor=north west,
  ymin=-0.018, ymax=1.02, ytick={0,0.2,0.4,0.6,0.8,1.0},
  yticklabels={0.0,0.2,0.4,0.6,0.8,1.0},
  ylabel={PPV\\Change},
  xticklabels={HeartPy,Neurokit2,Pan-Tompkins,Hamilton,Christov,EngZee,Kalidas,Nabian,Martinez,Elgendi,Zong,Rodrigues},
  xticklabel style={rotate=90, anchor=east, inner sep=0pt, font=\fontsize{13.8}{16}\selectfont, text=labc},
  xticklabel shift=9.5pt]
\violin{0}{c1}{y w\\ 1.1 0\\ 1.05 0.3\\ 1.016 0.38\\ 0.98 0.40\\ 0.937 0.35\\ 0.894 0.25\\ 0.858 0.2\\ 0.807 0.2\\ 0.7 0.19\\ 0.59 0.18\\ 0.52 0.2\\ 0.45 0.2\\ 0.377 0.17\\ 0.305 0.12\\ 0.248 0.07\\ 0.197 0.04\\ 0.14 0\\}
\addplot[pts] coordinates {(-0.06,0.99) (0.02,0.99) (0.07,0.98) (-0.03,0.98) (-0.09,0.97) (0.04,0.97) (-0.01,0.96) (0.09,0.95) (-0.05,0.95) (0.03,0.94) (-0.08,0.93) (0.06,0.92) (0.0,0.91) (-0.04,0.9) (0.02,0.88) (-0.07,0.86) (0.08,0.84) (-0.02,0.82) (0.05,0.8) (-0.09,0.78) (0.03,0.76) (-0.03,0.73) (0.07,0.71) (-0.06,0.69) (0.01,0.66) (0.09,0.64) (-0.08,0.61) (0.04,0.59) (-0.01,0.56) (0.07,0.53) (-0.07,0.5) (0.02,0.47) (-0.04,0.44) (0.08,0.42) (-0.09,0.39) (0.0,0.36) (0.05,0.33) (-0.05,0.3) (0.03,0.27) (-0.1,0.25) (0.04,0.24)};
\violin{1}{c2}{y w\\ 1.1 0\\ 1.05 0.3\\ 1.016 0.39\\ 0.98 0.40\\ 0.937 0.34\\ 0.894 0.25\\ 0.843 0.15\\ 0.786 0.11\\ 0.736 0.13\\ 0.67 0.16\\ 0.61 0.12\\ 0.556 0.1\\ 0.485 0.11\\ 0.413 0.1\\ 0.34 0.07\\ 0.27 0.035\\ 0.197 0.015\\ 0.16 0\\}
\addplot[pts] coordinates {(0.94,0.99) (1.0,0.99) (1.06,0.98) (0.97,0.98) (1.03,0.97) (0.92,0.97) (1.08,0.96) (0.99,0.96) (0.95,0.95) (1.04,0.94) (1.01,0.93) (0.96,0.92) (1.06,0.91) (0.98,0.89) (1.03,0.87) (0.95,0.86) (1.01,0.84) (0.97,0.82) (1.04,0.8) (0.94,0.78) (1.02,0.76) (0.98,0.74) (1.05,0.72) (0.96,0.7) (1.01,0.68) (0.93,0.66) (1.06,0.63) (0.98,0.6) (1.02,0.57) (0.94,0.54) (1.05,0.51) (0.97,0.47) (1.03,0.44) (0.95,0.41) (1.04,0.38) (0.98,0.35) (1.02,0.31) (0.95,0.28) (1.01,0.26)};
\violin{2}{c3}{y w\\ 0.76 0\\ 0.5 0.01\\ 0.36 0.015\\ 0.33 0.05\\ 0.28 0.09\\ 0.22 0.12\\ 0.16 0.16\\ 0.11 0.2\\ 0.07 0.28\\ 0.04 0.35\\ 0.02 0.4\\ 0.0 0.36\\ -0.015 0.2\\ -0.04 0\\}
\addplot[pts] coordinates {(2.04,0.72) (2.0,0.58) (1.97,0.32) (2.05,0.31) (1.93,0.29) (2.02,0.27) (2.07,0.25) (1.96,0.23) (2.01,0.21) (1.94,0.2) (2.06,0.18) (1.99,0.17) (2.04,0.15) (1.95,0.14) (2.08,0.12) (2.0,0.11) (1.93,0.1) (2.03,0.09) (1.97,0.08) (2.06,0.07) (1.94,0.06) (2.01,0.05) (2.09,0.04) (1.96,0.04) (2.04,0.03) (1.92,0.02) (1.99,0.02) (2.06,0.01) (2.02,0.0) (1.95,0.0) (2.08,0.0) (1.98,0.01) (2.03,0.13)
 (1.97,0.03) (2.03,0.02) (1.94,0.01) (2.07,0.03) (2.0,0.04) (1.96,0.06) (2.05,0.1) (1.99,0.16) (2.02,0.22) (1.95,0.24)};
\violin{3}{c4}{y w\\ 0.843 0\\ 0.5 0.01\\ 0.38 0.015\\ 0.34 0.03\\ 0.28 0.04\\ 0.2 0.06\\ 0.15 0.09\\ 0.1 0.14\\ 0.07 0.22\\ 0.04 0.32\\ 0.02 0.4\\ 0.0 0.36\\ -0.015 0.2\\ -0.04 0\\}
\addplot[pts] coordinates {(2.91,0.78) (2.93,0.67) (3.03,0.53) (3.03,0.49) (2.91,0.38) (3.09,0.32) (2.96,0.3) (3.05,0.28) (2.98,0.25) (2.94,0.23) (3.06,0.21) (3.0,0.19) (2.96,0.17) (3.03,0.15) (2.94,0.13) (3.05,0.11) (2.98,0.09) (3.02,0.08) (2.92,0.07) (3.07,0.06) (2.99,0.05) (2.95,0.04) (3.04,0.03) (3.01,0.02) (2.93,0.01) (3.06,0.01) (2.97,0.0) (3.03,0.0)
 (2.98,0.01) (3.04,0.02) (2.95,0.02) (3.08,0.0) (3.0,0.03) (2.96,0.06) (3.05,0.05) (3.02,0.12) (2.97,0.18)};
\violin{4}{c5}{y w\\ 1.09 0\\ 1.06 0.18\\ 1.0 0.27\\ 0.94 0.35\\ 0.86 0.39\\ 0.79 0.35\\ 0.73 0.22\\ 0.68 0.12\\ 0.63 0.13\\ 0.56 0.22\\ 0.48 0.32\\ 0.4 0.39\\ 0.33 0.39\\ 0.25 0.34\\ 0.17 0.26\\ 0.1 0.18\\ 0.04 0.12\\ 0.0 0.1\\ -0.03 0.06\\ -0.05 0\\}
\addplot[pts] coordinates {(4.01,0.99) (3.95,0.96) (4.06,0.95) (3.97,0.92) (4.03,0.9) (3.93,0.88) (4.07,0.87) (3.98,0.85) (4.04,0.83) (3.94,0.81) (4.02,0.79) (3.97,0.76) (4.05,0.74) (3.94,0.69) (4.04,0.62) (3.94,0.58) (3.96,0.53) (4.03,0.5) (3.93,0.48) (4.06,0.46) (3.98,0.44) (4.02,0.42) (3.95,0.4) (4.07,0.38) (3.99,0.36) (3.94,0.34) (4.05,0.32) (4.0,0.3) (3.96,0.27) (4.06,0.25) (3.98,0.22) (4.03,0.19) (3.95,0.16) (4.05,0.13) (3.99,0.1) (3.94,0.06) (4.06,0.04) (4.01,0.01)};
\violin{5}{c6}{y w\\ 0.88 0\\ 0.84 0.025\\ 0.81 0.04\\ 0.77 0.03\\ 0.73 0.025\\ 0.67 0.07\\ 0.62 0.165\\ 0.556 0.205\\ 0.49 0.18\\ 0.42 0.205\\ 0.36 0.28\\ 0.33 0.3\\ 0.285 0.245\\ 0.23 0.3\\ 0.17 0.4\\ 0.12 0.38\\ 0.06 0.22\\ 0.02 0.12\\ -0.01 0.085\\ -0.04 0\\}
\addplot[pts] coordinates {(4.99,0.79) (5.05,0.77) (5.06,0.64) (5.02,0.62) (4.95,0.6) (5.04,0.58) (4.97,0.56) (5.06,0.54) (4.93,0.52) (5.01,0.5) (4.96,0.48) (5.05,0.46) (4.94,0.44) (5.02,0.42) (4.97,0.4) (5.07,0.38) (4.93,0.36) (5.0,0.34) (5.05,0.32) (4.96,0.3) (5.03,0.28) (4.94,0.26) (5.06,0.24) (4.98,0.22) (5.02,0.2) (4.93,0.18) (5.05,0.17) (4.99,0.15) (5.04,0.13) (4.96,0.11) (5.07,0.09) (5.0,0.07) (4.97,0.04) (5.02,0.0) (5.05,0.0)};
\violin{6}{c7}{y w\\ 1.1 0\\ 1.03 0.03\\ 0.98 0.025\\ 0.9 0.018\\ 0.5 0.015\\ 0.25 0.017\\ 0.2 0.03\\ 0.15 0.07\\ 0.11 0.13\\ 0.07 0.22\\ 0.04 0.3\\ 0.015 0.39\\ 0.0 0.40\\ -0.016 0.3\\ -0.04 0\\}
\addplot[pts] coordinates {(5.93,0.99) (6.05,0.98) (6.0,0.96) (5.98,0.94) (6.08,0.9) (6.06,0.87) (5.9,0.82) (6.0,0.76) (6.0,0.62) (6.06,0.6) (6.08,0.48) (6.03,0.46) (6.05,0.39) (6.06,0.34) (6.06,0.3) (5.9,0.15) (5.97,0.13) (6.03,0.11) (5.95,0.09) (6.01,0.07) (6.06,0.06) (5.97,0.05) (6.03,0.04) (5.95,0.03) (6.0,0.02) (6.07,0.02) (5.96,0.01) (6.03,0.01) (5.93,0.0) (6.0,0.0) (6.06,0.0) (5.98,0.0)
 (5.99,0.01) (6.03,0.03) (5.95,0.02) (6.07,0.01) (6.0,0.04) (5.96,0.03)};
\violin{7}{c8}{y w\\ 1.1 0\\ 1.06 0.32\\ 1.0 0.4\\ 0.95 0.405\\ 0.9 0.33\\ 0.84 0.24\\ 0.77 0.15\\ 0.7 0.12\\ 0.6 0.11\\ 0.5 0.095\\ 0.4 0.085\\ 0.3 0.085\\ 0.2 0.1\\ 0.11 0.15\\ 0.05 0.13\\ 0.01 0.09\\ -0.02 0.05\\ -0.04 0\\}
\addplot[pts] coordinates {(6.93,0.99) (6.98,0.99) (7.04,0.98) (6.95,0.98) (7.02,0.97) (6.97,0.96) (7.06,0.96) (7.0,0.95) (6.94,0.94) (7.03,0.93) (6.97,0.91) (7.05,0.9) (6.99,0.88) (7.03,0.86) (6.95,0.85) (7.01,0.83) (6.96,0.8) (7.05,0.78) (6.98,0.74) (6.94,0.7) (7.03,0.67) (6.97,0.63) (7.04,0.6) (6.95,0.56) (7.02,0.52) (6.98,0.48) (7.04,0.43) (6.96,0.39) (7.02,0.34) (6.98,0.3) (7.06,0.22) (6.94,0.18) (7.02,0.14) (6.97,0.1) (7.04,0.07) (6.96,0.04) (7.01,0.02) (7.05,0.01)};
\violin{8}{c9}{y w\\ 1.1 0\\ 1.06 0.35\\ 1.0 0.39\\ 0.94 0.385\\ 0.87 0.33\\ 0.8 0.26\\ 0.72 0.19\\ 0.64 0.12\\ 0.56 0.1\\ 0.48 0.095\\ 0.4 0.08\\ 0.33 0.12\\ 0.27 0.13\\ 0.2 0.11\\ 0.13 0.065\\ 0.07 0.04\\ 0.02 0.015\\ -0.01 0\\}
\addplot[pts] coordinates {(7.92,0.99) (7.98,0.99) (8.04,0.98) (7.95,0.97) (8.02,0.97) (7.91,0.96) (8.07,0.95) (7.99,0.94) (7.94,0.93) (8.05,0.92) (7.97,0.9) (8.03,0.89) (7.93,0.87) (8.07,0.86) (7.99,0.84) (7.95,0.82) (8.04,0.8) (7.97,0.78) (8.06,0.76) (7.94,0.74) (8.01,0.71) (7.96,0.68) (8.05,0.66) (7.98,0.63) (8.03,0.6) (7.96,0.56) (8.04,0.53) (7.98,0.49) (8.02,0.45) (7.97,0.41) (8.05,0.37) (7.96,0.34) (8.03,0.31) (7.99,0.28) (7.94,0.25) (8.05,0.22) (8.0,0.18) (7.97,0.12) (7.93,0.02)};
\violin{9}{c10}{y w\\ 1.12 0\\ 1.02 0.008\\ 0.9 0.01\\ 0.75 0.015\\ 0.6 0.03\\ 0.5 0.045\\ 0.4 0.055\\ 0.3 0.06\\ 0.22 0.07\\ 0.16 0.1\\ 0.11 0.16\\ 0.07 0.26\\ 0.04 0.35\\ 0.015 0.40\\ 0.0 0.38\\ -0.016 0.3\\ -0.04 0\\}
\addplot[pts] coordinates {(9.05,0.99) (8.92,0.86) (9.09,0.84) (8.95,0.8) (9.07,0.73) (8.92,0.59) (9.05,0.55) (8.98,0.55) (9.08,0.5) (8.94,0.47) (9.03,0.45) (8.97,0.42) (9.06,0.4) (8.94,0.37) (9.02,0.34) (8.97,0.31) (9.05,0.29) (8.95,0.26) (9.03,0.23) (8.97,0.2) (9.06,0.18) (8.94,0.16) (9.01,0.14) (8.96,0.12) (9.04,0.1) (8.99,0.08) (8.94,0.06) (9.06,0.05) (9.0,0.04) (8.96,0.03) (9.04,0.02) (8.98,0.01) (9.02,0.01) (8.95,0.0) (9.07,0.0) (9.0,0.0)
 (8.97,0.02) (9.03,0.03) (8.94,0.01) (9.07,0.02) (9.0,0.05) (8.96,0.07) (9.04,0.09)};
\violin{10}{c11}{y w\\ 1.1 0\\ 1.06 0.2\\ 1.0 0.3\\ 0.93 0.37\\ 0.86 0.40\\ 0.79 0.36\\ 0.72 0.28\\ 0.65 0.17\\ 0.59 0.12\\ 0.5 0.09\\ 0.4 0.08\\ 0.3 0.08\\ 0.22 0.1\\ 0.15 0.15\\ 0.09 0.19\\ 0.04 0.21\\ 0.0 0.18\\ -0.02 0.12\\ -0.04 0\\}
\addplot[pts] coordinates {(10.04,0.98) (9.96,0.95) (10.06,0.94) (9.93,0.92) (10.01,0.91) (9.97,0.89) (10.05,0.88) (9.92,0.86) (10.02,0.85) (9.98,0.84) (10.07,0.82) (9.94,0.81) (10.03,0.79) (9.97,0.77) (10.06,0.76) (9.93,0.74) (10.01,0.72) (9.96,0.7) (10.05,0.69) (9.92,0.66) (10.02,0.64) (9.97,0.62) (10.05,0.6) (9.94,0.55) (10.03,0.51) (9.92,0.48) (10.0,0.44) (9.96,0.38) (10.04,0.34) (9.92,0.3) (10.03,0.24) (9.97,0.19) (10.05,0.14) (9.93,0.08) (10.01,0.07) (9.96,0.05) (10.04,0.04) (9.98,0.03) (9.93,0.03) (10.06,0.06)};
\violin{11}{c12}{y w\\ 1.1 0\\ 1.06 0.33\\ 1.0 0.40\\ 0.95 0.39\\ 0.9 0.33\\ 0.85 0.22\\ 0.8 0.12\\ 0.76 0.06\\ 0.72 0.035\\ 0.6 0.025\\ 0.45 0.025\\ 0.3 0.02\\ 0.15 0.018\\ 0.05 0.015\\ -0.02 0.01\\ -0.04 0\\}
\addplot[pts] coordinates {(10.94,0.99) (11.0,0.99) (11.05,0.99) (10.97,0.98) (11.03,0.98) (10.92,0.97) (11.07,0.97) (10.99,0.96) (10.95,0.95) (11.04,0.95) (11.01,0.94) (10.96,0.93) (11.06,0.92) (10.98,0.91) (11.03,0.9) (10.94,0.89) (11.01,0.88) (10.97,0.87) (11.05,0.86) (10.99,0.85) (10.93,0.84) (11.03,0.83) (10.97,0.81) (11.06,0.8) (10.99,0.79) (11.06,0.74) (11.0,0.67) (11.02,0.64) (10.99,0.6) (10.99,0.49) (11.01,0.45) (10.95,0.36) (11.05,0.33) (11.06,0.32) (11.06,0.14) (10.99,0.08) (11.0,0.06) (11.0,0.0)};
\end{axis}

\node[anchor=base, font=\titlefont\fontsize{23}{27}\selectfont] at (316pt,11.5pt)
  {Dataset A, Pre-Existing Methods, Improvement with Local Correction};
\end{tikzpicture}
\end{document}
